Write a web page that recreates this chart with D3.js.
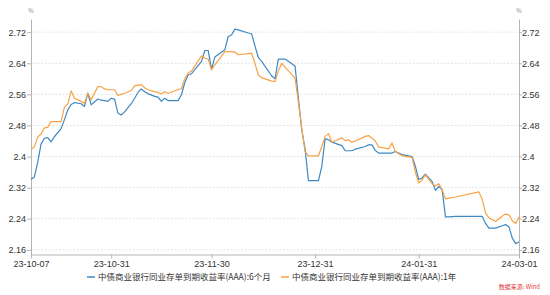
<!DOCTYPE html>
<html><head><meta charset="utf-8">
<script src="https://cdn.jsdelivr.net/npm/d3@7"></script>
<style>
body{margin:0;background:#fff;}
svg{display:block;font-family:"Noto Sans CJK SC","Noto Sans",sans-serif;}
</style></head><body>
<svg id="c" width="550" height="295"></svg>
<script>
const dates = ["2023-10-07","2023-10-08","2023-10-09","2023-10-10","2023-10-11","2023-10-12","2023-10-13","2023-10-14","2023-10-16","2023-10-17","2023-10-18","2023-10-19","2023-10-20","2023-10-22","2023-10-23","2023-10-24","2023-10-25","2023-10-27","2023-10-28","2023-10-29","2023-10-30","2023-10-31","2023-11-01","2023-11-02","2023-11-03","2023-11-04","2023-11-06","2023-11-07","2023-11-08","2023-11-09","2023-11-10","2023-11-11","2023-11-13","2023-11-14","2023-11-15","2023-11-16","2023-11-17","2023-11-20","2023-11-21","2023-11-22","2023-11-23","2023-11-24","2023-11-27","2023-11-28","2023-11-29","2023-11-30","2023-12-01","2023-12-04","2023-12-05","2023-12-06","2023-12-07","2023-12-08","2023-12-11","2023-12-12","2023-12-13","2023-12-14","2023-12-15","2023-12-18","2023-12-19","2023-12-20","2023-12-21","2023-12-22","2023-12-25","2023-12-26","2023-12-27","2023-12-28","2023-12-29","2024-01-01","2024-01-02","2024-01-03","2024-01-04","2024-01-05","2024-01-08","2024-01-09","2024-01-10","2024-01-11","2024-01-12","2024-01-15","2024-01-16","2024-01-17","2024-01-18","2024-01-19","2024-01-22","2024-01-23","2024-01-24","2024-01-26","2024-01-29","2024-01-30","2024-01-31","2024-02-01","2024-02-02","2024-02-03","2024-02-04","2024-02-05","2024-02-06","2024-02-07","2024-02-08","2024-02-09","2024-02-11","2024-02-18","2024-02-19","2024-02-20","2024-02-21","2024-02-23","2024-02-25","2024-02-26","2024-02-27","2024-02-28","2024-02-29","2024-03-01"];
const series6M = [2.342,2.347,2.385,2.432,2.447,2.449,2.438,2.451,2.472,2.495,2.520,2.534,2.539,2.536,2.529,2.563,2.533,2.548,2.545,2.544,2.542,2.550,2.548,2.512,2.507,2.515,2.536,2.550,2.565,2.574,2.567,2.562,2.555,2.553,2.542,2.550,2.544,2.544,2.559,2.590,2.610,2.613,2.645,2.673,2.673,2.625,2.656,2.675,2.709,2.713,2.728,2.726,2.718,2.716,2.685,2.655,2.645,2.608,2.600,2.651,2.651,2.651,2.633,2.550,2.469,2.420,2.338,2.338,2.375,2.446,2.443,2.437,2.428,2.415,2.415,2.415,2.419,2.426,2.430,2.430,2.416,2.409,2.409,2.409,2.413,2.405,2.400,2.375,2.341,2.345,2.355,2.345,2.336,2.313,2.323,2.315,2.245,2.245,2.246,2.246,2.246,2.228,2.216,2.216,2.222,2.225,2.219,2.190,2.176,2.180];
const series1Y = [2.419,2.425,2.450,2.458,2.474,2.475,2.490,2.490,2.490,2.527,2.535,2.569,2.550,2.542,2.537,2.563,2.546,2.580,2.580,2.574,2.572,2.572,2.572,2.557,2.560,2.563,2.570,2.582,2.584,2.585,2.577,2.572,2.567,2.565,2.561,2.567,2.563,2.572,2.575,2.600,2.615,2.620,2.659,2.653,2.651,2.623,2.636,2.670,2.670,2.670,2.669,2.662,2.665,2.666,2.640,2.610,2.603,2.594,2.593,2.620,2.640,2.630,2.602,2.540,2.473,2.413,2.402,2.402,2.426,2.452,2.459,2.437,2.448,2.441,2.443,2.437,2.440,2.452,2.454,2.448,2.440,2.425,2.420,2.435,2.413,2.402,2.398,2.360,2.332,2.340,2.353,2.342,2.330,2.324,2.330,2.315,2.291,2.293,2.296,2.309,2.290,2.255,2.242,2.233,2.247,2.252,2.250,2.235,2.228,2.245];
const seriesNames = ["中债商业银行同业存单到期收益率(AAA):6个月","中债商业银行同业存单到期收益率(AAA):1年"];
const xTickDates = ["2023-10-07","2023-10-31","2023-11-30","2023-12-31","2024-01-31","2024-03-01"];
const yTicks = [2.16,2.24,2.32,2.4,2.48,2.56,2.64,2.72];
const colors = ["#3d89c3","#f8a247"];

const parse = d3.timeParse("%Y-%m-%d");
const fmt = d3.timeFormat("%y-%m-%d");
const svg = d3.select("#c");
const L = 31, R = 519, T = 19, B = 254.5;
const x = d3.scaleTime().domain([parse("2023-10-07"), parse("2024-03-01")]).range([L, R]);
const y = d3.scaleLinear().domain([2.148, 2.754]).range([B, T]);

// grid
svg.append("g").selectAll("line").data(yTicks).join("line")
  .attr("x1", L).attr("x2", R)
  .attr("y1", d => y(d)).attr("y2", d => y(d))
  .attr("stroke", "#dedede").attr("stroke-width", 0.8).attr("stroke-dasharray", "2,1.5");

const axisColor = "#b5b5b5";
function styleAxis(g){
  g.select(".domain").attr("stroke", axisColor);
  g.selectAll(".tick line").attr("stroke", axisColor);
  g.selectAll(".tick text").attr("fill", "#333").style("font-size", "9px");
}
const yl = svg.append("g").attr("transform", `translate(${L},0)`)
  .call(d3.axisLeft(y).tickValues(yTicks).tickFormat(d3.format("~g")).tickSize(4).tickPadding(1).tickSizeOuter(0));
styleAxis(yl);
const yr = svg.append("g").attr("transform", `translate(${R},0)`)
  .call(d3.axisRight(y).tickValues(yTicks).tickFormat(d3.format("~g")).tickSize(3).tickPadding(0).tickSizeOuter(0));
styleAxis(yr);
const xa = svg.append("g").attr("transform", `translate(0,${B})`)
  .call(d3.axisBottom(x).tickValues(xTickDates.map(parse)).tickFormat(fmt).tickSize(4).tickPadding(2).tickSizeOuter(0));
styleAxis(xa);

// % units
svg.append("text").attr("x", L).attr("y", 13).attr("text-anchor","middle").attr("fill","#888").style("font-size","6px").text("%");
svg.append("text").attr("x", R).attr("y", 13).attr("text-anchor","middle").attr("fill","#888").style("font-size","6px").text("%");

// lines
const data = [series6M, series1Y];
const line = d3.line().x((d,i) => x(parse(dates[i]))).y(d => y(d));
data.forEach((s, k) => {
  svg.append("path").datum(s).attr("d", line)
    .attr("fill","none").attr("stroke", colors[k]).attr("stroke-width", 1.2).attr("stroke-linejoin","round");
});

// legend
const lg = [{x:87, name:seriesNames[0], c:colors[0]},{x:281, name:seriesNames[1], c:colors[1]}];
lg.forEach(l => {
  svg.append("line").attr("x1", l.x).attr("x2", l.x+8).attr("y1", 277).attr("y2", 277).attr("stroke", l.c).attr("stroke-width", 1.5);
  svg.append("text").attr("x", l.x+11).attr("y", 280).attr("fill","#333").style("font-size","8.5px").text(l.name);
});
svg.append("text").attr("x", 540).attr("y", 289).attr("text-anchor","end").attr("fill","#e0383a").style("font-size","6px").text("数据来源: Wind");
</script>
</body></html>
